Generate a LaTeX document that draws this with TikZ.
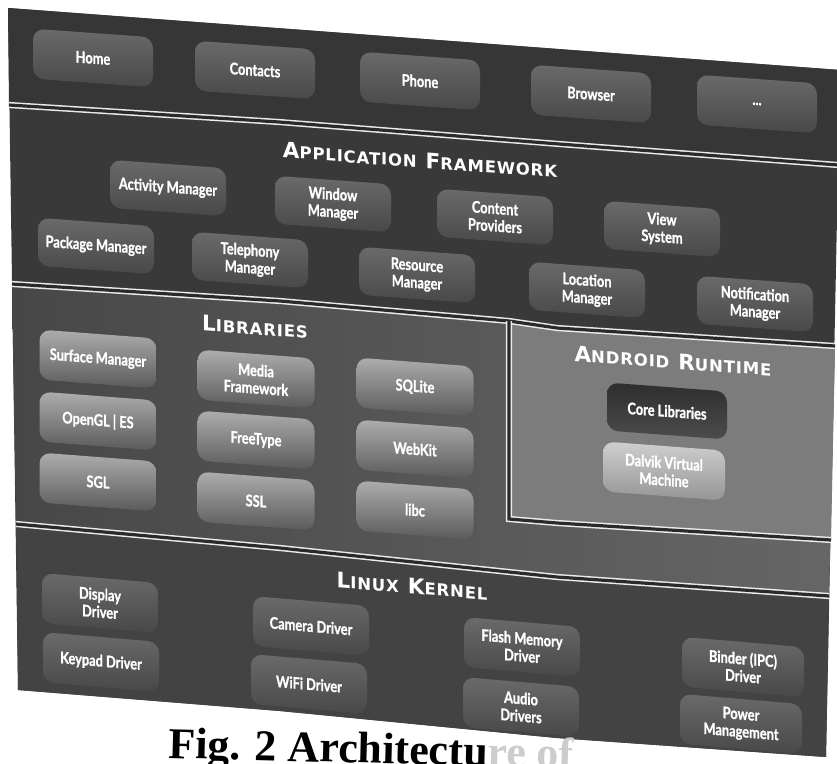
\documentclass[tikz,border=0pt]{standalone}
\usepackage{fontspec}
\setmainfont{Liberation Serif}
\newfontfamily\boxfont[FakeStretch=0.8, BoldFeatures={FakeBold=1}]{Lato}
\newfontfamily\titlefont[LetterSpace=5]{DejaVu Sans}
\definecolor{bgapp}{HTML}{363636}
\definecolor{bgfw}{HTML}{393939}
\definecolor{bgliba}{HTML}{474747}
\definecolor{bglibb}{HTML}{666666}
\definecolor{bgrt}{HTML}{7C7C7C}
\definecolor{bgker}{HTML}{434343}
\definecolor{apptop}{HTML}{6A6A6A}
\definecolor{appbot}{HTML}{484848}
\definecolor{libtop}{HTML}{ADADAD}
\definecolor{libbot}{HTML}{5A5A5A}
\definecolor{coretop}{HTML}{2E2E2E}
\definecolor{corebot}{HTML}{4C4C4C}
\definecolor{dvmtop}{HTML}{CFCFCF}
\definecolor{dvmbot}{HTML}{959595}
\definecolor{sepgap}{HTML}{2A2A2A}
\newcommand\bxfont{\boxfont\bfseries\fontsize{16}{17.5}\selectfont}
\newcommand\ttl[2]{{\fontsize{21.5}{22}\selectfont#1}{\fontsize{16.5}{17}\selectfont#2}}
\newcommand\tsp{\hspace{9pt}}
\tikzset{
  sbox/.style={rounded corners=11pt, align=center, text=white, font=\bxfont, inner sep=1pt},
  appbox/.style={sbox, minimum width=120pt, minimum height=50pt, top color=apptop, bottom color=appbot, yslant=-0.072},
  fwbox/.style={sbox, minimum width=116pt, minimum height=48pt, top color=apptop, bottom color=appbot, yslant=-0.073},
  libbox/.style={sbox, minimum width=117pt, minimum height=50pt, top color=libtop, bottom color=libbot, yslant=-0.076},
  corebox/.style={sbox, minimum width=120pt, minimum height=48pt, top color=coretop, bottom color=corebot, yslant=-0.075},
  dvmbox/.style={sbox, minimum width=122pt, minimum height=50pt, top color=dvmtop, bottom color=dvmbot, yslant=-0.075},
  kbox/.style={sbox, minimum width=116pt, minimum height=50pt, top color=apptop, bottom color=appbot, yslant=-0.085},
  layertitle/.style={text=white, font=\titlefont\bfseries, inner sep=0pt},
  sepline/.style={draw=white!92!black, line width=1.5pt, double=sepgap, double distance=3.2pt},
}
\begin{document}
\begin{tikzpicture}[x=1pt, y=-1pt]
\fill[white] (0,0) rectangle (837,763);
\clip (0,0) rectangle (837,763);
\useasboundingbox (0,0) rectangle (837,763);
% frame corners and separators
\coordinate (TL) at (8,8);     \coordinate (TR) at (840,70);
\coordinate (A1) at (9,105);   \coordinate (A2) at (279,122); \coordinate (A3) at (559,144); \coordinate (A4) at (838,165);
\coordinate (B1) at (12,284);  \coordinate (B2) at (280,301); \coordinate (B3) at (509,321); \coordinate (B4) at (557,328); \coordinate (B5) at (835,346);
\coordinate (R1) at (509,519); \coordinate (R2) at (557,523); \coordinate (R3) at (831,540);
\coordinate (C1) at (16,524);  \coordinate (C2) at (280,548); \coordinate (C3) at (557,577); \coordinate (C4) at (829,596);
\coordinate (D1) at (18,690);  \coordinate (D2) at (280,711); \coordinate (D3) at (557,738); \coordinate (D4) at (826,757);
% bands
\fill[bgfw] (TL) -- (TR) -- (D4) -- (D3) -- (D2) -- (D1) -- cycle;
\fill[bgapp] (TL) -- (TR) -- (A4) -- (A3) -- (A2) -- (A1) -- cycle;
\shade[left color=bgliba, right color=bglibb] (B1) -- (B2) -- (B3) -- (B4) -- (B5) -- (C4) -- (C3) -- (C2) -- (C1) -- cycle;
\fill[bgrt] (B3) -- (B4) -- (B5) -- (R3) -- (R2) -- (R1) -- cycle;
\fill[bgker] (C1) -- (C2) -- (C3) -- (C4) -- (D4) -- (D3) -- (D2) -- (D1) -- cycle;
% separators
\draw[sepline] (A1) -- (A2) -- (A3) -- (A4);
\draw[sepline] (B1) -- (B2) -- (B3) -- (B4) -- (B5);
\draw[sepline] (B3) -- (R1) -- (R2) -- (R3);
\draw[sepline] (C1) -- (C2) -- (C3) -- (C4);
% applications
\node[appbox] (home) at (93,58) {Home};
\node[appbox] (contacts) at (255,70) {Contacts};
\node[appbox] (phone) at (420,81) {Phone};
\node[appbox] (browser) at (591,94) {Browser};
\node[appbox] (more) at (757,104) {...};
% application framework
\node[layertitle, yslant=-0.073] (tfw) at (420,160) {\ttl{A}{PPLICATION}\tsp\ttl{F}{RAMEWORK}};
\node[fwbox] (act) at (168,188) {Activity Manager};
\node[fwbox] (win) at (333,204) {Window\\Manager};
\node[fwbox] (cont) at (495,217) {Content\\Providers};
\node[fwbox] (view) at (662,229) {View\\System};
\node[fwbox] (pkg) at (96,246) {Package Manager};
\node[fwbox] (tel) at (250,260) {Telephony\\Manager};
\node[fwbox] (res) at (417,275) {Resource\\Manager};
\node[fwbox] (loc) at (587,290) {Location\\Manager};
\node[fwbox] (notif) at (755,304) {Notification\\Manager};
% libraries
\node[layertitle, yslant=-0.076] (tlib) at (255,327) {\ttl{L}{IBRARIES}};
\node[libbox] (surf) at (98,359) {Surface Manager};
\node[libbox] (ogl) at (98,421) {OpenGL | ES};
\node[libbox] (sgl) at (98,482) {SGL};
\node[libbox] (media) at (256,379) {Media\\Framework};
\node[libbox] (ft) at (256,440) {FreeType};
\node[libbox] (ssl) at (256,501) {SSL};
\node[libbox] (sql) at (415,387) {SQLite};
\node[libbox] (web) at (415,449) {WebKit};
\node[libbox] (libc) at (415,510) {libc};
% android runtime
\node[layertitle, yslant=-0.075] (trt) at (673,361) {\ttl{A}{NDROID}\tsp\ttl{R}{UNTIME}};
\node[corebox] (core) at (667,411) {Core Libraries};
\node[dvmbox] (dvm) at (664,471) {Dalvik Virtual\\Machine};
% linux kernel
\node[layertitle, yslant=-0.085] (tker) at (412,586) {\ttl{L}{INUX}\tsp\ttl{K}{ERNEL}};
\node[kbox] (disp) at (100,603) {Display\\Driver};
\node[kbox] (key) at (101,662) {Keypad Driver};
\node[kbox] (cam) at (311,626) {Camera Driver};
\node[kbox] (wifi) at (309,684) {WiFi Driver};
\node[kbox] (flash) at (522,647) {Flash Memory\\Driver};
\node[kbox] (audio) at (521,707) {Audio\\Drivers};
\node[kbox, minimum width=122pt] (binder) at (743,667) {Binder (IPC)\\Driver};
\node[kbox, minimum width=122pt] (power) at (741,724) {Power\\Management};
% caption
\node[anchor=base west, inner sep=0pt, rotate=-1.5, font=\bfseries\fontsize{44}{44}\selectfont] (cap) at (168,758) {Fig. 2 Architectu{\color{gray!40}re of}};
\end{tikzpicture}
\end{document}
